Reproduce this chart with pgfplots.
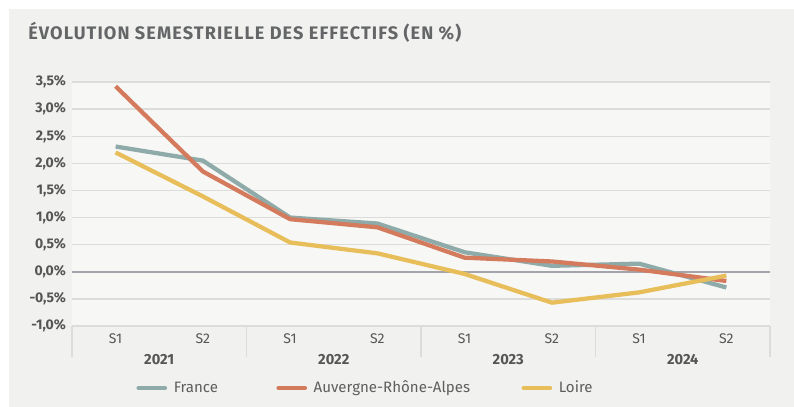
\documentclass[border=0pt]{standalone}
\usepackage{pgfplots}
\pgfplotsset{compat=1.18}
\usepackage{fontspec}
\setmainfont{Fira Sans}
\definecolor{bgpanel}{HTML}{F1F2EF}
\definecolor{plotbg}{HTML}{F7F7F5}
\definecolor{gridc}{HTML}{DCDCDA}
\definecolor{zeroc}{HTML}{A3A5AB}
\definecolor{txt}{HTML}{555555}
\definecolor{legtxt}{HTML}{5E5E5E}
\definecolor{titlec}{HTML}{646567}
\definecolor{cFrance}{HTML}{8EABA9}
\definecolor{cARA}{HTML}{D47B5D}
\definecolor{cLoire}{HTML}{E8BE5A}
\begin{document}
\begin{tikzpicture}
\path[use as bounding box] (0pt,0pt) rectangle (595.5pt,305.25pt);
\fill[white] (0pt,0pt) rectangle (595.5pt,305.25pt);
\fill[bgpanel] (6.75pt,0pt) rectangle (595.5pt,298.5pt);
\node[anchor=base west,font=\fontsize{13.6pt}{15pt}\selectfont\bfseries\addfontfeatures{LetterSpace=6},text=titlec,inner sep=0] at (21pt,275.25pt) {ÉVOLUTION SEMESTRIELLE DES EFFECTIFS (EN \%)};
\begin{axis}[
  at={(54pt,60.75pt)}, anchor=south west,
  scale only axis, width=523.5pt, height=183pt,
  xmin=-0.5, xmax=7.5, ymin=-1, ymax=3.5,
  axis background/.style={fill=plotbg},
  axis line style={draw=none},
  xtick={0,...,7},
  xticklabels={S1,S2,S1,S2,S1,S2,S1,S2},
  ytick={-1,-0.5,0,0.5,1,1.5,2,2.5,3,3.5},
  yticklabels={{-1,0\%},{-0,5\%},{0,0\%},{0,5\%},{1,0\%},{1,5\%},{2,0\%},{2,5\%},{3,0\%},{3,5\%}},
  ymajorgrids, grid style={draw=gridc,line width=1pt},
  major tick length=0pt,
  tick label style={font=\fontsize{10.5pt}{12pt}\selectfont,text=txt},
  yticklabel style={font=\fontsize{10.5pt}{12pt}\selectfont\bfseries,text=txt,xshift=-1pt},
  xticklabel style={yshift=-2pt},
  clip=false,
  legend columns=3,
  legend style={at={(0.421,-0.254)},anchor=center,draw=none,fill=none,
    font=\fontsize{11.3pt}{13pt}\selectfont,text=legtxt,
    /tikz/every odd column/.append style={column sep=3pt},
    /tikz/column 2/.style={column sep=41.75pt},
    /tikz/column 4/.style={column sep=36.5pt}},
  legend image code/.code={\draw[#1,line width=3pt,line cap=round] (0pt,0pt) -- (20pt,0pt);},
]
\draw[zeroc,line width=1.6pt] (axis cs:-0.5,0) -- (axis cs:7.5,0);
\addplot[cFrance,line width=3.2pt,line join=round] coordinates {
(0,2.31) (1,2.05) (2,1.00) (3,0.89) (4,0.36) (5,0.11) (6,0.15) (7,-0.29)};
\addlegendentry{France}
\addplot[cARA,line width=3.2pt,line join=round] coordinates {
(0,3.42) (1,1.85) (2,0.97) (3,0.82) (4,0.26) (5,0.19) (6,0.04) (7,-0.17)};
\addlegendentry{Auvergne-Rhône-Alpes}
\addplot[cLoire,line width=3.2pt,line join=round] coordinates {
(0,2.20) (1,1.39) (2,0.54) (3,0.34) (4,-0.04) (5,-0.57) (6,-0.38) (7,-0.07)};
\addlegendentry{Loire}
\foreach \s in {-0.5,1.5,3.5,5.5,7.5}{
  \edef\tmp{\noexpand\draw[gridc,line width=0.8pt] (axis cs:\s,-1) -- ([yshift=-23.25pt]axis cs:\s,-1);}
  \tmp
}
\foreach \x/\y in {0.5/2021,2.5/2022,4.5/2023,6.5/2024}{
  \edef\tmp{\noexpand\node[anchor=base,font=\noexpand\fontsize{11pt}{13pt}\noexpand\selectfont\noexpand\bfseries,text=txt] at ([yshift=-29.25pt]axis cs:\x,-1) {\y};}
  \tmp
}
\end{axis}
\end{tikzpicture}
\end{document}
